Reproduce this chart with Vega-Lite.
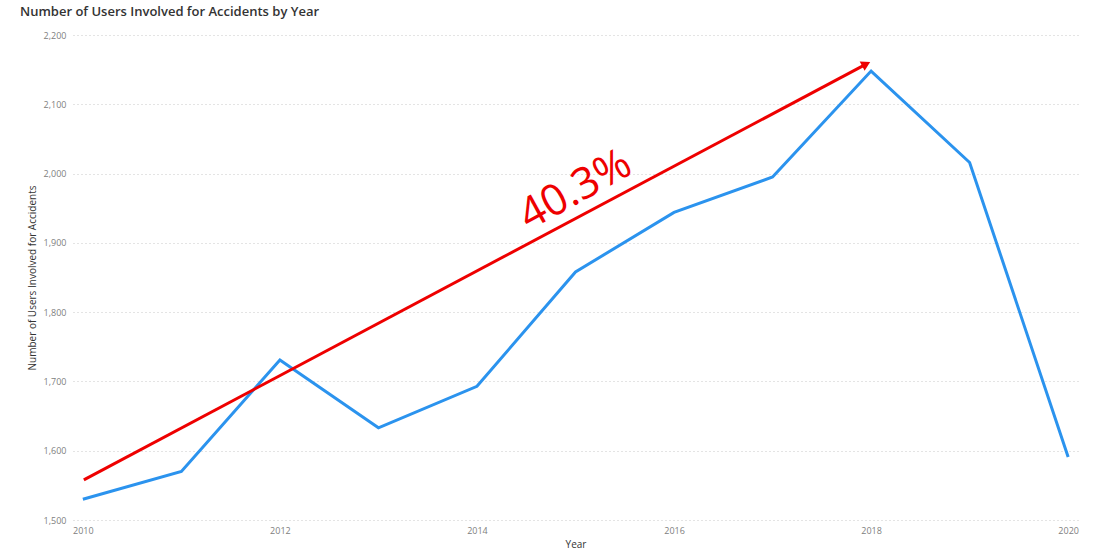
{
  "$schema": "https://vega.github.io/schema/vega-lite/v6.json",
  "autosize": {"type": "none"},
  "width": 1005,
  "height": 485,
  "padding": {"left": 73, "top": 35, "right": 21, "bottom": 36},
  "background": "white",
  "title": {
    "text": "Number of Users Involved for Accidents by Year",
    "anchor": "start",
    "frame": "group",
    "dx": -53,
    "offset": 12,
    "font": "Open Sans",
    "fontSize": 13,
    "fontWeight": 600,
    "color": "#333333"
  },
  "datasets": {
    "main": [
      {"Year": 2010, "Users": 1530},
      {"Year": 2011, "Users": 1570},
      {"Year": 2012, "Users": 1731},
      {"Year": 2013, "Users": 1633},
      {"Year": 2014, "Users": 1693},
      {"Year": 2015, "Users": 1858},
      {"Year": 2016, "Users": 1944},
      {"Year": 2017, "Users": 1995},
      {"Year": 2018, "Users": 2148},
      {"Year": 2019, "Users": 2016},
      {"Year": 2020, "Users": 1591}
    ],
    "arrow": [
      {"Year": 2010.01, "Users": 1558},
      {"Year": 2017.95, "Users": 2158}
    ],
    "head": [
      {"Year": 2017.95, "Users": 2158}
    ],
    "label": [
      {"Year": 2015.0, "Users": 1976, "text": "40.3%"}
    ]
  },
  "config": {
    "view": {"stroke": null},
    "font": "Open Sans",
    "axis": {
      "labelFont": "Open Sans",
      "titleFont": "Open Sans",
      "labelColor": "#808080",
      "titleColor": "#333333",
      "labelFontSize": 9,
      "titleFontSize": 10,
      "titleFontWeight": "normal",
      "domain": false,
      "ticks": false
    }
  },
  "layer": [
    {
      "data": {"name": "main"},
      "mark": {"type": "line", "color": "#2B93EE", "strokeWidth": 3},
      "encoding": {
        "x": {
          "field": "Year",
          "type": "quantitative",
          "scale": {"domain": [2009.9, 2020.1], "nice": false, "zero": false},
          "axis": {
            "values": [2010, 2012, 2014, 2016, 2018, 2020],
            "format": "d",
            "grid": false,
            "labelPadding": 6,
            "title": "Year",
            "titlePadding": 4,
            "labelFlush": false
          }
        },
        "y": {
          "field": "Users",
          "type": "quantitative",
          "scale": {"domain": [1500, 2200], "nice": false, "zero": false},
          "axis": {
            "values": [1500, 1600, 1700, 1800, 1900, 2000, 2100, 2200],
            "format": ",d",
            "grid": true,
            "gridColor": "#C8C8C8",
            "gridDash": [1, 3],
            "gridWidth": 1,
            "labelPadding": 7,
            "title": "Number of Users Involved for Accidents",
            "titlePadding": 6
          }
        }
      }
    },
    {
      "data": {"name": "arrow"},
      "mark": {"type": "line", "color": "#EE0000", "strokeWidth": 3},
      "encoding": {
        "x": {"field": "Year", "type": "quantitative"},
        "y": {"field": "Users", "type": "quantitative"}
      }
    },
    {
      "data": {"name": "head"},
      "mark": {"type": "point", "shape": "triangle-up", "filled": true, "color": "#EE0000", "size": 110, "angle": 62, "opacity": 1},
      "encoding": {
        "x": {"field": "Year", "type": "quantitative"},
        "y": {"field": "Users", "type": "quantitative"}
      }
    },
    {
      "data": {"name": "label"},
      "mark": {"type": "text", "color": "#EE0000", "fontSize": 43, "font": "Open Sans", "angle": -29, "align": "center", "baseline": "middle"},
      "encoding": {
        "x": {"field": "Year", "type": "quantitative"},
        "y": {"field": "Users", "type": "quantitative"},
        "text": {"field": "text"}
      }
    }
  ]
}
